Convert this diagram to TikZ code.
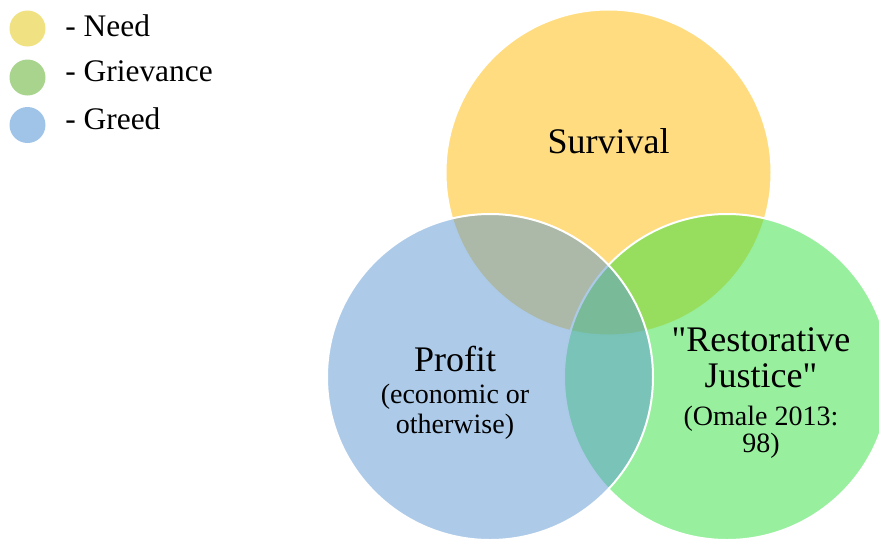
\documentclass[tikz,border=0pt]{standalone}
\usepackage{fontspec}
\setmainfont{Liberation Serif}
\usetikzlibrary{positioning}

% straight double quote, taken from the font as a glyph
\newcommand{\dquote}{\XeTeXglyph\XeTeXglyphindex "quotedbl"\relax}

\definecolor{needkey}{RGB}{240,225,130}
\definecolor{grievancekey}{RGB}{168,212,142}
\definecolor{greedkey}{RGB}{160,196,232}
\definecolor{needset}{RGB}{255,185,1}
\definecolor{grievanceset}{RGB}{49,225,63}
\definecolor{greedset}{RGB}{91,151,211}

\begin{document}
\begin{tikzpicture}[x=0.5pt, y=-0.5pt,
  set/.style={circle, minimum size=163pt, inner sep=0pt, draw=white, line width=1pt, fill opacity=0.5},
  key/.style={circle, minimum size=18pt, inner sep=0pt},
  keytext/.style={anchor=base west, inner sep=0pt, font=\fontsize{15.7}{16}\selectfont},
  title/.style={inner sep=0pt, align=center, font=\fontsize{18}{18}\selectfont},
  note/.style={inner sep=0pt, align=center, font=\fontsize{14}{15}\selectfont}
]
\useasboundingbox (0,0) rectangle (879,538);

% legend
\node[key, fill=needkey] (needkey) at (27.5,28.5) {};
\node[keytext] (needtext) at (65,36) {- Need};
\node[key, fill=grievancekey] (grievancekey) at (27.5,77.5) {};
\node[keytext] (grievancetext) at (65,81) {- Grievance};
\node[key, fill=greedkey] (greedkey) at (27.5,125) {};
\node[keytext] (greedtext) at (65,129) {- Greed};

% the three overlapping sets
\node[set, fill=needset] (need) at (608.5,172.5) {};
\node[set, fill=grievanceset] (grievance) at (727,377) {};
\node[set, fill=greedset] (greed) at (490,377) {};

% set labels
\node[title, anchor=base] (survival) at (608.5,153) {Survival};
\node[title, anchor=base] (profit) at (455,371.7) {Profit};
\node[note, below=5.5pt of profit] (profitnote) {(economic or\\otherwise)};
\node[title, anchor=north] (restore) at (761,327.4) {\dquote Restorative\\Justice\dquote};
\node[note, below=8.5pt of restore, font=\fontsize{14}{13.5}\selectfont] (omale) {(Omale 2013:\\98)};
\end{tikzpicture}
\end{document}
